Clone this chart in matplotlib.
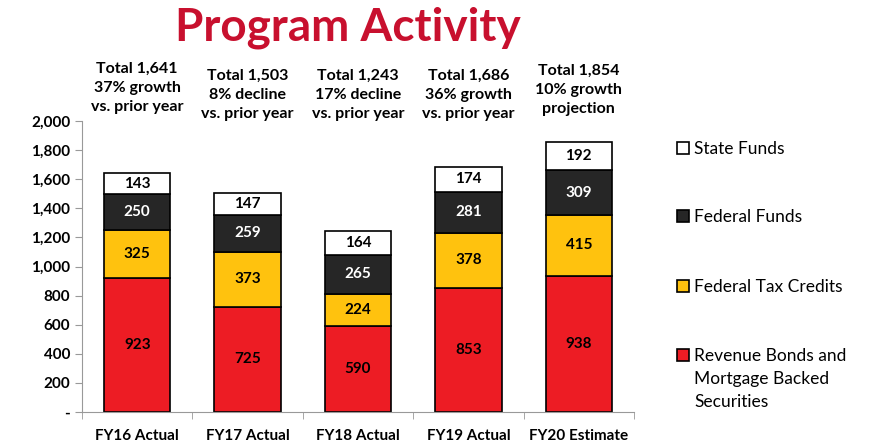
import matplotlib.pyplot as plt
from matplotlib.patches import Rectangle
import numpy as np

plt.rcParams['font.family'] = ['Lato', 'DejaVu Sans']

# datos
categories = ['FY16 Actual', 'FY17 Actual', 'FY18 Actual', 'FY19 Actual', 'FY20 Estimate']
revenue_bonds = [923, 725, 590, 853, 938]
tax_credits = [325, 373, 224, 378, 415]
federal_funds = [250, 259, 265, 281, 309]
state_funds = [143, 147, 164, 174, 192]
totals = ['1,641', '1,503', '1,243', '1,686', '1,854']
notes = ['37% growth\nvs. prior year', '8% decline\nvs. prior year', '17% decline\nvs. prior year',
         '36% growth\nvs. prior year', '10% growth\nprojection']

series = [
    ('Revenue Bonds and\nMortgage Backed\nSecurities', revenue_bonds, '#ED1C24', 'black'),
    ('Federal Tax Credits', tax_credits, '#FFC20E', 'black'),
    ('Federal Funds', federal_funds, '#262626', 'white'),
    ('State Funds', state_funds, 'white', 'black'),
]

fig = plt.figure(figsize=(8.73, 4.42), dpi=100)
ax = fig.add_axes([82 / 873, 1 - 412 / 442, 552 / 873, 291 / 442])

x = np.arange(len(categories))
bottom = np.zeros(len(categories))
for name, vals, color, txt in series:
    ax.bar(x, vals, width=0.6, bottom=bottom, color=color, edgecolor='black',
           linewidth=1.2, label=name)
    for xi, v, bt in zip(x, vals, bottom):
        ax.text(xi, bt + v / 2, str(v), ha='center', va='center', fontsize=11,
                fontweight='bold', color=txt)
    bottom += np.array(vals)

ax.set_ylim(0, 2000)
ax.set_xlim(-0.5, len(categories) - 0.5)
ax.set_yticks(range(0, 2001, 200))
ax.set_yticklabels(['-'] + [f'{v:,}' for v in range(200, 2001, 200)], fontsize=11, fontweight='bold')
ax.set_xticks(x)
ax.set_xticklabels(categories, fontsize=11, fontweight='bold')
ax.tick_params(axis='x', length=0, pad=12)
ax.tick_params(axis='y', length=5, color='#999999')
ax.set_xticks(np.arange(-0.5, len(categories)), minor=True)
ax.tick_params(axis='x', which='minor', length=5, color='#999999')
for s in ['top', 'right']:
    ax.spines[s].set_visible(False)
for s in ['left', 'bottom']:
    ax.spines[s].set_color('#999999')

# anotaciones arriba de las barras
mids = [88, 95, 95, 95, 90]
for xi, tot, note, my in zip(x, totals, notes, mids):
    xf = (82 + (xi + 0.5) * 552 / 5) / 873
    fig.text(xf, 1 - my / 442, f'Total {tot}\n{note}', ha='center', va='center', fontsize=11.5,
             fontweight='bold', linespacing=1.45)

fig.text(348 / 873, 1 - 28 / 442, 'Program Activity', ha='center', va='center',
         fontsize=33, fontweight='bold', color='#C8102E')

# leyenda dibujada a mano
leg_y = [148, 216, 286, 355]
for (name, vals, color, txt), ly in zip(series[::-1], leg_y):
    fig.patches.append(Rectangle((677 / 873, 1 - (ly + 6) / 442), 12 / 873, 12 / 442,
                                 transform=fig.transFigure, facecolor=color,
                                 edgecolor='black', linewidth=1.2))
    fig.text(694 / 873, 1 - (ly - 7) / 442, name, ha='left', va='top', fontsize=12.5,
             linespacing=1.55)

fig.savefig('out.png', dpi=100)
